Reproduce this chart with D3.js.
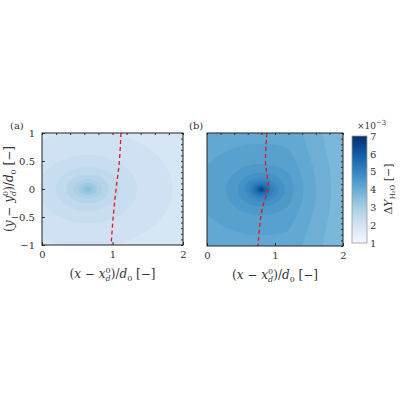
<!DOCTYPE html>
<html>
<head>
<meta charset="UTF-8">
<script src="https://d3js.org/d3.v7.min.js"></script>
<style>
body { margin: 0; background: #fff; }
text { font-family: "DejaVu Serif", "Liberation Serif", serif; fill: #333; }
</style>
</head>
<body>
<svg id="chart" width="400" height="400"></svg>
<script>
// Field description for each panel
const panelLabels = ["(a)", "(b)"];
const peakX = [0.65, 0.8];
const peakValue = [3.6, 7.0];
const edgeValue = [1.6, 3.9];
const fieldScale = [0.3, 0.1];
// interface (dashed red) lines
const frontA = [[1.12, 1], [1.09, 0.4], [1.05, 0], [1.01, -0.5], [0.98, -1]];
const frontB = [[0.88, 1], [0.86, 0.5], [0.9, 0.05], [0.82, -0.3], [0.75, -1]];
const fronts = [frontA, frontB];
const xTicks = [0, 1, 2];
const yTicks = [-1, -0.5, 0, 0.5, 1];
const cbTicks = [1, 2, 3, 4, 5, 6, 7];

const FONT = "DejaVu Serif";
const svg = d3.select("#chart");
const color = d3.scaleSequential(t => d3.interpolateBlues(0.02 + 0.98 * t)).domain([1, 7]);

const panels = [
  {x0: 42, x1: 183, y0: 133, y1: 245},
  {x0: 207, x1: 343, y0: 133, y1: 246}
];

function label(sel, v) {
  sel.append("tspan").text("(");
  sel.append("tspan").attr("font-style", "italic").text(v);
  sel.append("tspan").text(" − ");
  sel.append("tspan").attr("font-style", "italic").text(v);
  sel.append("tspan").attr("font-size", 8).attr("dy", -5).text("0");
  sel.append("tspan").attr("font-size", 8).attr("font-style", "italic").attr("dx", -5).attr("dy", 8).text("d");
  sel.append("tspan").attr("dy", -3).text(")/");
  sel.append("tspan").attr("font-style", "italic").text("d");
  sel.append("tspan").attr("font-size", 8).attr("dy", 3).text("0");
  sel.append("tspan").attr("dy", -3).text(" [−]");
}

const nx = 100, ny = 80;
panels.forEach((p, i) => {
  const x = d3.scaleLinear().domain([0, 2]).range([p.x0, p.x1]);
  const y = d3.scaleLinear().domain([-1, 1]).range([p.y1, p.y0]);
  const values = new Array(nx * ny);
  for (let j = 0; j < ny; j++) for (let k = 0; k < nx; k++) {
    const xv = 2 * k / (nx - 1), yv = 1 - 2 * j / (ny - 1);
    const r = Math.hypot(xv - peakX[i], yv * 1.15);
    values[j * nx + k] = edgeValue[i] + (peakValue[i] - edgeValue[i]) / (1 + r / fieldScale[i])
      - 0.6 * i * Math.max(0, xv - 1.2);
  }
  const contours = d3.contours().size([nx, ny]).thresholds(d3.range(1, 7.2, 0.2))(values);
  const sx = (p.x1 - p.x0) / (nx - 1), sy = (p.y1 - p.y0) / (ny - 1);
  const path = d3.geoPath(d3.geoTransform({
    point(px, py) { this.stream.point(p.x0 + (px - 0.5) * sx, p.y0 + (py - 0.5) * sy); }
  }));
  const g = svg.append("g");
  g.append("clipPath").attr("id", "clip" + i).append("rect")
    .attr("x", p.x0).attr("y", p.y0).attr("width", p.x1 - p.x0).attr("height", p.y1 - p.y0);
  g.append("rect").attr("x", p.x0).attr("y", p.y0).attr("width", p.x1 - p.x0).attr("height", p.y1 - p.y0)
    .attr("fill", color(1.2));
  g.append("g").attr("clip-path", `url(#clip${i})`).selectAll("path").data(contours).join("path")
    .attr("d", path).attr("fill", d => color(d.value + 0.1));

  g.append("path").datum(fronts[i])
    .attr("d", d3.line().x(d => x(d[0])).y(d => y(d[1])).curve(d3.curveMonotoneY))
    .attr("fill", "none").attr("stroke", "#e8141b").attr("stroke-width", 1.3).attr("stroke-dasharray", "4,3");

  const ax = g.append("g").attr("transform", `translate(0,${p.y1})`)
    .call(d3.axisBottom(x).tickValues(xTicks).tickFormat(d3.format("d")).tickSize(-3).tickPadding(6));
  const ax2 = g.append("g").attr("transform", `translate(0,${p.y0})`)
    .call(d3.axisTop(x).tickValues(d3.range(0, 2.01, 0.2)).tickFormat("").tickSize(-2));
  const ay = g.append("g").attr("transform", `translate(${p.x0},0)`)
    .call(d3.axisLeft(y).tickValues(i === 0 ? yTicks : []).tickFormat(d3.format("")).tickSize(-3).tickPadding(7));
  const ay2 = g.append("g").attr("transform", `translate(${p.x1},0)`)
    .call(d3.axisRight(y).tickValues(d3.range(-1, 1.01, 0.1)).tickFormat("").tickSize(-2));
  [ax, ax2, ay, ay2].forEach(a => {
    a.attr("font-family", FONT);
    a.selectAll("path").remove();
    a.selectAll("line").attr("stroke", "#333");
    a.selectAll("text").attr("font-size", 10).attr("fill", "#333");
  });
  g.append("rect").attr("x", p.x0).attr("y", p.y0).attr("width", p.x1 - p.x0).attr("height", p.y1 - p.y0)
    .attr("fill", "none").attr("stroke", "#222").attr("stroke-width", 1);
  g.append("text").attr("x", p.x0 - (i === 0 ? 32 : 18)).attr("y", p.y0 - 4).attr("font-size", 10).text(panelLabels[i]);

  const xl = g.append("text").attr("x", (p.x0 + p.x1) / 2).attr("y", p.y1 + 33).attr("text-anchor", "middle").attr("font-size", 12);
  label(xl, "x");
});

// y label
const yl = svg.append("text").attr("transform", "translate(13,189) rotate(-90)").attr("text-anchor", "middle").attr("font-size", 12);
label(yl, "y");

// colorbar
const cb = {x0: 352, x1: 367, y0: 136, y1: 243};
const cy = d3.scaleLinear().domain([1, 7]).range([cb.y1, cb.y0]);
const defs = svg.append("defs");
const grad = defs.append("linearGradient").attr("id", "cbgrad").attr("x1", 0).attr("y1", 1).attr("x2", 0).attr("y2", 0);
d3.range(0, 1.01, 0.1).forEach(t => grad.append("stop").attr("offset", t).attr("stop-color", color(1 + 6 * t)));
svg.append("rect").attr("x", cb.x0).attr("y", cb.y0).attr("width", cb.x1 - cb.x0).attr("height", cb.y1 - cb.y0)
  .attr("fill", "url(#cbgrad)").attr("stroke", "#999").attr("stroke-width", 0.8);
const cax = svg.append("g").attr("transform", `translate(${cb.x1},0)`)
  .call(d3.axisRight(cy).tickValues(cbTicks).tickFormat(d3.format("d")).tickSize(0).tickPadding(3));
cax.attr("font-family", FONT);
cax.select("path").remove();
cax.selectAll("text").attr("font-size", 10).attr("fill", "#333");
const ex = svg.append("text").attr("x", 357).attr("y", 129).attr("font-size", 9);
ex.append("tspan").text("×10");
ex.append("tspan").attr("font-size", 7).attr("dy", -4).text("−3");
const cl = svg.append("text").attr("transform", "translate(392,189) rotate(-90)").attr("text-anchor", "middle").attr("font-size", 11);
cl.append("tspan").text("Δ");
cl.append("tspan").attr("font-style", "italic").text("Y");
cl.append("tspan").attr("font-size", 7).attr("dy", 3).text("H₂O");
cl.append("tspan").attr("dy", -3).text(" [−]");
</script>
</body>
</html>
